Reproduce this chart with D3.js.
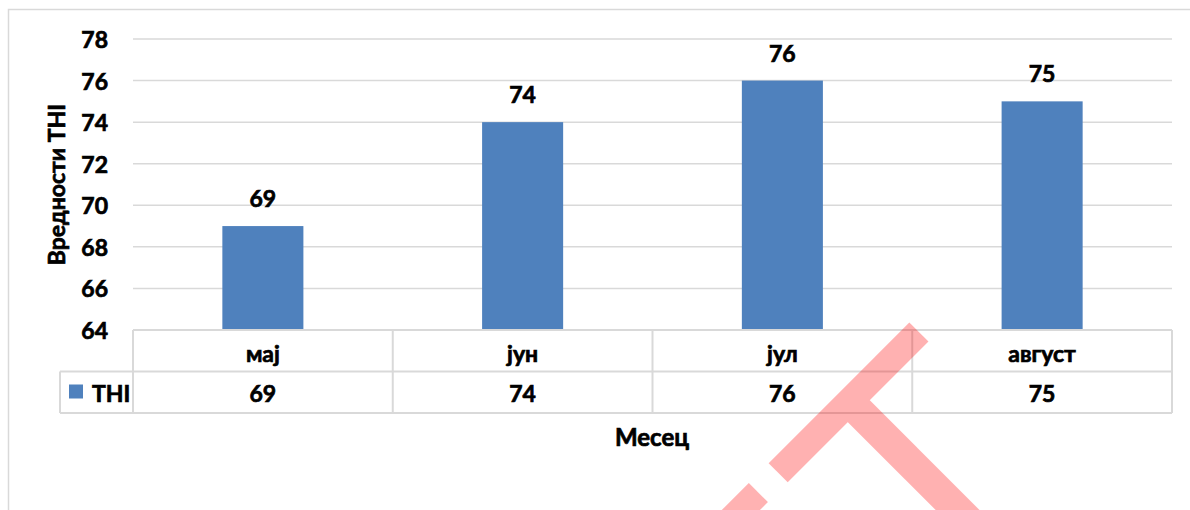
<!DOCTYPE html>
<html>
<head>
<meta charset="utf-8">
<script src="https://cdn.jsdelivr.net/npm/d3@7"></script>
<style>
  body { margin: 0; background: #fff; }
  text { font-family: Lato, "Open Sans", sans-serif; font-weight: 700; fill: #000; stroke: #000; stroke-width: 0.7px; }
</style>
</head>
<body>
<svg id="chart" width="1190" height="510"></svg>
<script>
const months = ['мај', 'јун', 'јул', 'август'];
const thi = [69, 74, 76, 75];
const yTicks = [64, 66, 68, 70, 72, 74, 76, 78];
const seriesName = 'THI';

const COLORS = {
    bar: '#4f81bd',
    grid: '#d9d9d9',
    border: '#d9d9d9',
    stamp: '#ff0000'
};

const svg = d3.select('#chart');
const plot = { left: 133, right: 1172, top: 39, bottom: 330 };
const rowH = 41.5;

// chart frame
svg.append('rect')
    .attr('x', 8.5).attr('y', 9.5)
    .attr('width', 1200).attr('height', 600)
    .attr('fill', 'none')
    .attr('stroke', COLORS.border)
    .attr('stroke-width', 1.5);

const x = d3.scaleBand().domain(months).range([plot.left, plot.right]).paddingInner(0).paddingOuter(0);
const y = d3.scaleLinear().domain([64, 78]).range([plot.bottom, plot.top]);

// gridlines
svg.append('g').selectAll('line')
    .data(yTicks.slice(1))
    .join('line')
    .attr('x1', plot.left).attr('x2', plot.right)
    .attr('y1', d => y(d)).attr('y2', d => y(d))
    .attr('stroke', COLORS.grid)
    .attr('stroke-width', 1.5);

// y tick labels
svg.append('g').selectAll('text')
    .data(yTicks)
    .join('text')
    .attr('x', 108)
    .attr('y', d => y(d))
    .attr('text-anchor', 'end')
    .attr('dominant-baseline', 'central')
    .attr('font-size', 23)
    .text(d => d);

// bars
const barW = x.bandwidth() * 0.312;
svg.append('g').selectAll('rect')
    .data(thi)
    .join('rect')
    .attr('x', (d, i) => x(months[i]) + x.bandwidth() / 2 - barW / 2)
    .attr('y', d => y(d))
    .attr('width', barW)
    .attr('height', d => y(64) - y(d))
    .attr('fill', COLORS.bar);

// data labels
svg.append('g').selectAll('text')
    .data(thi)
    .join('text')
    .attr('x', (d, i) => x(months[i]) + x.bandwidth() / 2)
    .attr('y', d => y(d) - 28)
    .attr('text-anchor', 'middle')
    .attr('dominant-baseline', 'central')
    .attr('font-size', 23)
    .text(d => d);

// data table
const table = svg.append('g');
const tTop = plot.bottom;
const tableLine = (x1, y1, x2, y2) => table.append('line')
    .attr('x1', x1).attr('y1', y1).attr('x2', x2).attr('y2', y2)
    .attr('stroke', COLORS.grid).attr('stroke-width', 2);

tableLine(plot.left, tTop, plot.right, tTop);
tableLine(60, tTop + rowH, plot.right, tTop + rowH);
tableLine(60, tTop + 2 * rowH, plot.right, tTop + 2 * rowH);
tableLine(60, tTop + rowH, 60, tTop + 2 * rowH);
months.forEach(m => tableLine(x(m), tTop, x(m), tTop + 2 * rowH));
tableLine(plot.right, tTop, plot.right, tTop + 2 * rowH);

table.selectAll('text.cat')
    .data(months)
    .join('text')
    .attr('class', 'cat')
    .attr('x', d => x(d) + x.bandwidth() / 2)
    .attr('y', tTop + rowH / 2 + 2)
    .attr('text-anchor', 'middle')
    .attr('dominant-baseline', 'central')
    .attr('font-size', 23)
    .text(d => d);

table.selectAll('text.val')
    .data(thi)
    .join('text')
    .attr('class', 'val')
    .attr('x', (d, i) => x(months[i]) + x.bandwidth() / 2)
    .attr('y', tTop + rowH * 1.5 + 1)
    .attr('text-anchor', 'middle')
    .attr('dominant-baseline', 'central')
    .attr('font-size', 23)
    .text(d => d);

// legend key in table
table.append('rect')
    .attr('x', 69).attr('y', tTop + rowH + 13)
    .attr('width', 14).attr('height', 14)
    .attr('fill', COLORS.bar);
table.append('text')
    .attr('x', 92).attr('y', tTop + rowH * 1.5 + 1)
    .attr('dominant-baseline', 'central')
    .attr('font-size', 23)
    .text(seriesName);

// axis titles
svg.append('text')
    .attr('transform', 'translate(56,' + ((plot.top + plot.bottom) / 2) + ') rotate(-90)')
    .attr('text-anchor', 'middle')
    .attr('dominant-baseline', 'central')
    .attr('font-size', 23)
    .text('Вредности THI');

svg.append('text')
    .attr('x', 652).attr('y', 436)
    .attr('text-anchor', 'middle')
    .attr('dominant-baseline', 'central')
    .attr('font-size', 24)
    .text('Месец');

// red stamp overlay (rotated 45deg)
const stamp = svg.append('g')
    .attr('opacity', 0.3)
    .attr('transform', 'rotate(-45)');
[
    [216, 871, 199, 27],
    [90, 871, 98, 27],
    [301, 885, 31, 260]
].forEach(([lx, ly, w, h]) => stamp.append('rect')
    .attr('x', lx).attr('y', ly).attr('width', w).attr('height', h)
    .attr('fill', COLORS.stamp));
</script>
</body>
</html>
